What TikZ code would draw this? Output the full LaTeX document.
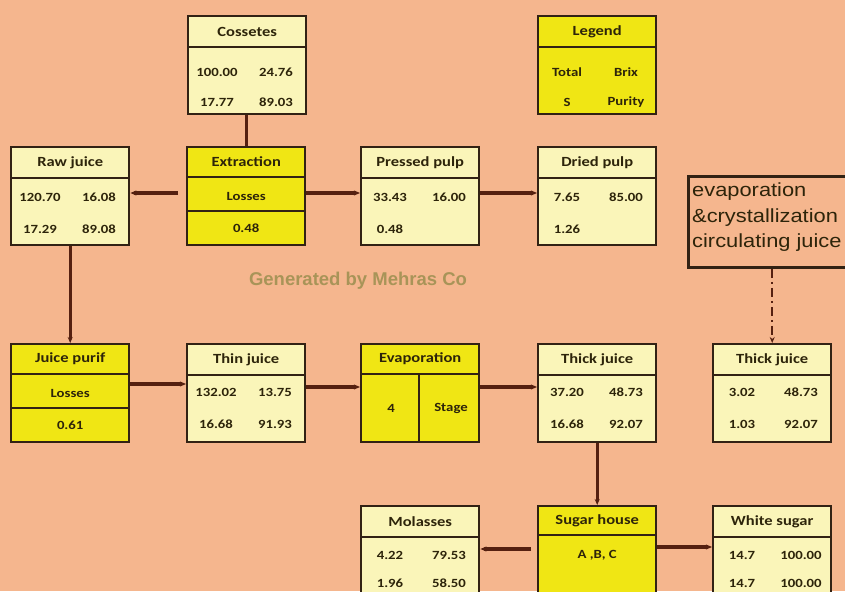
\documentclass[tikz,border=0pt]{standalone}
\usepackage{fontspec}
\usetikzlibrary{arrows.meta}
\newfontfamily\boxfont[FakeStretch=1.18]{Carlito}
\newfontfamily\notefont[FakeStretch=1.15]{Liberation Sans}
\newfontfamily\markfont{Liberation Sans}

\definecolor{bg}{RGB}{245,182,142}
\definecolor{paleyel}{RGB}{250,245,185}
\definecolor{brightyel}{RGB}{240,230,20}
\definecolor{boxline}{RGB}{50,34,20}
\definecolor{linkcol}{RGB}{85,32,16}
\definecolor{ink}{RGB}{45,36,10}
\definecolor{markcol}{RGB}{168,148,88}

\tikzset{
  panel/.style={draw=boxline, line width=2.4pt, minimum width=118pt,
    minimum height=98pt, inner sep=0pt, anchor=north west},
  pale/.style={panel, fill=paleyel},
  bright/.style={panel, fill=brightyel},
  divider/.style={draw=boxline, line width=1.7pt},
  ttl/.style={font=\boxfont\bfseries\fontsize{14}{14}\selectfont, text=ink, inner sep=0pt},
  val/.style={font=\boxfont\bfseries\fontsize{12.5}{12.5}\selectfont, text=ink, inner sep=0pt},
  link/.style={draw=linkcol, line width=3.2pt},
  conn/.style={link, -{Stealth[length=6pt,width=5pt]}},
  notebox/.style={draw=boxline, line width=2.8pt, inner sep=0pt, anchor=north west},
  noteline/.style={font=\notefont\fontsize{19}{19}\selectfont, text=ink, inner sep=0pt, anchor=base west},
}

% value rows, measured from the top edge of a box
\newcommand\rowA{57}
\newcommand\rowB{87}

% data box: name, x, y, style, title, four values
\newcommand\databox[9]{%
  \node[#4] (#1) at (#2,#3) {};
  \draw[divider] ([yshift=-32pt]#1.north west) -- ([yshift=-32pt]#1.north east);
  \node[ttl] at ([yshift=-16.5pt]#1.north) {#5};
  \node[val] at ([xshift=30pt,yshift=-\rowA pt]#1.north west) {#6};
  \node[val] at ([xshift=89pt,yshift=-\rowA pt]#1.north west) {#7};
  \node[val] at ([xshift=30pt,yshift=-\rowB pt]#1.north west) {#8};
  \node[val] at ([xshift=89pt,yshift=-\rowB pt]#1.north west) {#9};
}

% process box with losses: name, x, y, title, value
\newcommand\lossbox[5]{%
  \node[bright] (#1) at (#2,#3) {};
  \draw[divider] ([yshift=-31pt]#1.north west) -- ([yshift=-31pt]#1.north east);
  \draw[divider] ([yshift=-65pt]#1.north west) -- ([yshift=-65pt]#1.north east);
  \node[ttl] at ([yshift=-16pt]#1.north) {#4};
  \node[val] at ([yshift=-50pt]#1.north) {Losses};
  \node[val] at ([yshift=-82pt]#1.north) {#5};
}

\begin{document}
\begin{tikzpicture}[x=1pt,y=-1pt]
\useasboundingbox (0,0) rectangle (845,591);
\fill[bg] (0,0) rectangle (845,591);

% watermark
\node[font=\markfont\bfseries\fontsize{18.5}{18.5}\selectfont, text=markcol] (mark) at (358,281) {Generated by Mehras Co};

% first row
\databox{cos}{187}{15}{pale}{Cossetes}{100.00}{24.76}{17.77}{89.03}
\databox{leg}{537}{15}{bright}{Legend}{Total}{Brix}{S}{Purity}

% second row
\renewcommand\rowA{51}\renewcommand\rowB{83}
\databox{raw}{10}{146}{pale}{Raw juice}{120.70}{16.08}{17.29}{89.08}
\lossbox{ext}{186}{146}{Extraction}{0.48}
\databox{pp}{360}{146}{pale}{Pressed pulp}{33.43}{16.00}{0.48}{}
\databox{dp}{537}{146}{pale}{Dried pulp}{7.65}{85.00}{1.26}{}

% note on circulating juice
\node[notebox, minimum width=180pt, minimum height=91pt] (note) at (687,175) {};
\node[noteline] at (692,196) {evaporation};
\node[noteline] at (692,222) {\&crystallization};
\node[noteline] at (692,247) {circulating juice};

% third row
\renewcommand\rowA{49}\renewcommand\rowB{81}
\lossbox{pur}{10}{343}{Juice purif}{0.61}
\databox{thin}{186}{343}{pale}{Thin juice}{132.02}{13.75}{16.68}{91.93}
\node[bright] (evap) at (360,343) {};
\draw[divider] ([yshift=-31pt]evap.north west) -- ([yshift=-31pt]evap.north east);
\draw[divider] ([xshift=59pt,yshift=-31pt]evap.north west) -- ([xshift=59pt]evap.south west);
\node[ttl] at ([yshift=-16pt]evap.north) {Evaporation};
\node[val] at ([xshift=31pt,yshift=-65pt]evap.north west) {4};
\node[val] at ([xshift=91pt,yshift=-65pt]evap.north west) {Stage};
\databox{thick}{537}{343}{pale}{Thick juice}{37.20}{48.73}{16.68}{92.07}
\databox{thickb}{712}{343}{pale}{Thick juice}{3.02}{48.73}{1.03}{92.07}

% fourth row
\renewcommand\rowA{50}\renewcommand\rowB{78}
\databox{mol}{360}{505}{pale}{Molasses}{4.22}{79.53}{1.96}{58.50}
\node[bright] (sug) at (537,505) {};
\draw[divider] ([yshift=-30pt]sug.north west) -- ([yshift=-30pt]sug.north east);
\node[ttl] at ([yshift=-16pt]sug.north) {Sugar house};
\node[val] at ([yshift=-50pt]sug.north) {A ,B, C};
\databox{ws}{712}{505}{pale}{White sugar}{14.7}{100.00}{14.7}{100.00}

% connectors
\draw[link] ([xshift=-1pt]cos.south) -- ([xshift=-1pt]cos.south |- ext.north);
\draw[conn, shorten <=8pt] ([yshift=-47pt]ext.north west) -- ([yshift=-47pt]raw.north east);
\draw[conn] ([yshift=-47pt]ext.north east) -- ([yshift=-47pt]pp.north west);
\draw[conn] ([yshift=-47pt]pp.north east) -- ([yshift=-47pt]dp.north west);
\draw[conn] (raw.south) -- (pur.north);
\draw[conn] ([yshift=-41pt]pur.north east) -- ([yshift=-41pt]thin.north west);
\draw[conn] ([yshift=-44pt]thin.north east) -- ([yshift=-44pt]evap.north west);
\draw[conn] ([yshift=-44pt]evap.north east) -- ([yshift=-44pt]thick.north west);
\draw[conn] (thick.south) -- (sug.north);
\draw[conn, shorten <=6pt] ([yshift=-44pt]sug.north west) -- ([yshift=-44pt]mol.north east);
\draw[conn] ([yshift=-42pt]sug.north east) -- ([yshift=-42pt]ws.north west);
\draw[link, line width=2.2pt, dash pattern=on 9pt off 4pt on 2pt off 4pt,
  -{Stealth[length=6pt,width=5pt]}] (note.south -| thickb.north) -- (thickb.north);
\end{tikzpicture}
\end{document}
